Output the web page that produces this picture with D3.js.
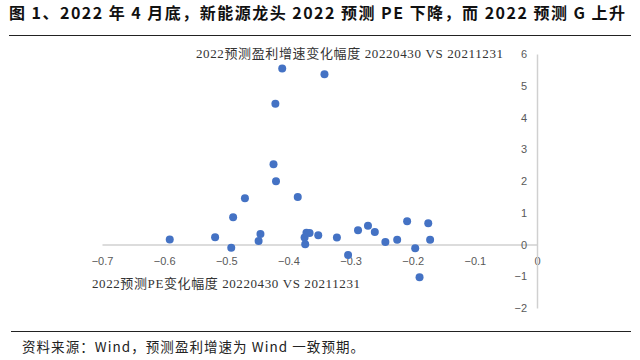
<!DOCTYPE html>
<html><head><meta charset="utf-8">
<script src="https://cdn.jsdelivr.net/npm/d3@7"></script>
<style>body{margin:0;background:#fff}svg{display:block}</style>
</head><body>
<svg id="c" width="640" height="360"></svg>
<script>
const peChange = [-0.410,-0.342,-0.421,-0.424,-0.420,-0.470,-0.385,-0.489,-0.591,-0.518,-0.492,-0.445,-0.448,-0.371,-0.366,-0.374,-0.373,-0.352,-0.322,-0.304,-0.288,-0.272,-0.261,-0.244,-0.225,-0.209,-0.196,-0.189,-0.175,-0.172];
const gChange  = [5.54,5.36,4.43,2.53,1.99,1.46,1.50,0.86,0.16,0.23,-0.10,0.33,0.11,0.37,0.36,0.22,0.01,0.29,0.22,-0.33,0.45,0.59,0.39,0.08,0.15,0.73,-0.12,-1.03,0.67,0.15];
const xTicks = [-0.7,-0.6,-0.5,-0.4,-0.3,-0.2,-0.1,0];
const yTicks = [-2,-1,0,1,2,3,4,5,6];
const title = "图 1、2022 年 4 月底，新能源龙头 2022 预测 PE 下降，而 2022 预测 G 上升";
const xTitle = "2022预测PE变化幅度 20220430 VS 20211231";
const yTitle = "2022预测盈利增速变化幅度 20220430 VS 20211231";
const source = "资料来源：Wind，预测盈利增速为 Wind 一致预期。";

const svg = d3.select("#c");
const x = d3.scaleLinear().domain([-0.7, 0]).range([102, 537]);
const y = d3.scaleLinear().domain([-2, 6]).range([308, 54]);

// title
svg.append("text").attr("x", 9).attr("y", 19)
  .attr("font-family", "'Noto Sans CJK SC', sans-serif").attr("font-weight", "bold")
  .attr("font-size", 16).attr("fill", "#111")
  .attr("textLength", 616).attr("lengthAdjust", "spacing").text(title);
svg.append("line").attr("x1", 9).attr("x2", 631).attr("y1", 35.5).attr("y2", 35.5)
  .attr("stroke", "#222").attr("stroke-width", 1.2);

// x axis at y=0
const xAxis = d3.axisBottom(x).tickValues(xTicks).tickSize(0).tickFormat(d => d === 0 ? "0" : d3.format(".1f")(d));
const gx = svg.append("g").attr("transform", `translate(0,${y(0)})`).call(xAxis);
gx.select(".domain").attr("stroke", "#d0d0d0").attr("stroke-width", 1.5);
gx.selectAll("text").attr("y", 0).attr("dy", "0").attr("transform", `translate(0,${261 - y(0) + 4})`)
  .attr("font-family", "'Liberation Sans', Arial, sans-serif").attr("font-size", 11).attr("fill", "#595959");

// y axis at x=0
const yAxis = d3.axisLeft(y).tickValues(yTicks).tickSize(0).tickPadding(10);
const gy = svg.append("g").attr("transform", `translate(${x(0)},0)`).call(yAxis);
gy.select(".domain").attr("stroke", "#d0d0d0").attr("stroke-width", 1.5);
gy.selectAll("text").attr("font-family", "'Liberation Sans', Arial, sans-serif").attr("font-size", 11).attr("fill", "#595959");

// axis titles
svg.append("text").attr("x", 196).attr("y", 58)
  .attr("font-family", "'Liberation Serif', 'Noto Sans CJK SC', serif")
  .attr("font-size", 13).attr("fill", "#333")
  .attr("textLength", 307).attr("lengthAdjust", "spacing").text(yTitle);
svg.append("text").attr("x", 92).attr("y", 288)
  .attr("font-family", "'Liberation Serif', 'Noto Sans CJK SC', serif")
  .attr("font-size", 13).attr("fill", "#333")
  .attr("textLength", 268).attr("lengthAdjust", "spacing").text(xTitle);

// points
svg.append("g").selectAll("circle").data(peChange.map((v, i) => [v, gChange[i]]))
  .join("circle").attr("cx", d => x(d[0])).attr("cy", d => y(d[1])).attr("r", 4)
  .attr("fill", "#4472C4");

// bottom
svg.append("line").attr("x1", 11).attr("x2", 631).attr("y1", 331.5).attr("y2", 331.5)
  .attr("stroke", "#222").attr("stroke-width", 1.2);
svg.append("text").attr("x", 22).attr("y", 352)
  .attr("font-family", "'Noto Sans CJK SC', sans-serif")
  .attr("font-size", 13.5).attr("fill", "#222")
  .attr("textLength", 342).attr("lengthAdjust", "spacing").text(source);
</script>
</body></html>
